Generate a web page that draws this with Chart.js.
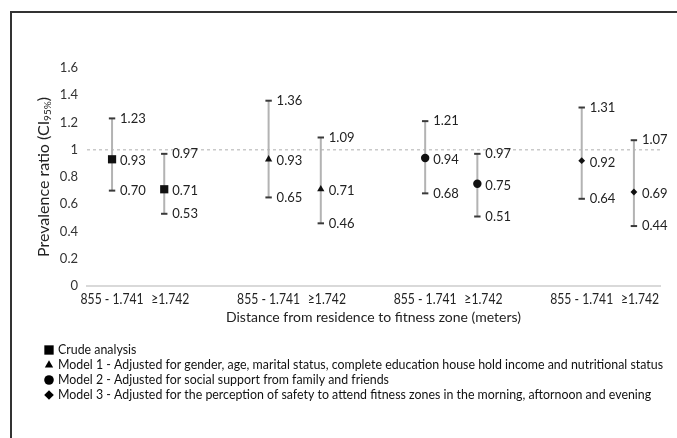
<!DOCTYPE html>
<html>
<head>
<meta charset="utf-8">
<script src="https://cdn.jsdelivr.net/npm/chart.js@4.4.1/dist/chart.umd.min.js"></script>
<style>
    html, body { margin: 0; padding: 0; background: #fff; }
    #chart { display: block; }
</style>
</head>
<body>
<canvas id="chart" width="677" height="438"></canvas>
<script>
const models = [
    'Crude analysis',
    'Model 1 - Adjusted for gender, age, marital status, complete education house hold income and nutritional status',
    'Model 2 - Adjusted for social support from family and friends',
    'Model 3 - Adjusted for the perception of safety to attend fitness zones in the morning, aftornoon and evening',
];
const distances = ['855 - 1.741', '≥1.742'];
const estimates = [[0.93, 0.71], [0.93, 0.71], [0.94, 0.75], [0.92, 0.69]];
const lowerCI = [[0.70, 0.53], [0.65, 0.46], [0.68, 0.51], [0.64, 0.44]];
const upperCI = [[1.23, 0.97], [1.36, 1.09], [1.21, 0.97], [1.31, 1.07]];
const yTicks = [0, 0.2, 0.4, 0.6, 0.8, 1, 1.2, 1.4, 1.6];
const referenceValue = 1;

const markerStyles = [
    { pointStyle: 'rect', radius: 5.8 },
    { pointStyle: 'triangle', radius: 4.2 },
    { pointStyle: 'circle', radius: 4.2 },
    { pointStyle: 'rectRot', radius: 3.4 },
];

const font = 'Lato, "Open Sans", sans-serif';
const textColor = '#222';

// x position of each (model, distance) pair: pairs are separated by an empty slot
const xOf = (m, d) => m * 3 + d;
const tickPositions = models.flatMap((_, m) => distances.map((_, d) => xOf(m, d)));

const datasets = [];
models.forEach((model, m) => {
    const bars = [];
    distances.forEach((_, d) => {
        bars.push({ x: xOf(m, d), y: lowerCI[m][d] });
        bars.push({ x: xOf(m, d), y: upperCI[m][d] });
        bars.push({ x: xOf(m, d), y: null });
    });
    datasets.push({
        label: model + ' CI',
        data: bars,
        showLine: true,
        spanGaps: false,
        borderColor: '#b3b3b3',
        borderWidth: 2,
        pointStyle: 'line',
        pointRadius: 3.2,
        pointBorderColor: '#3a3a3a',
        pointBorderWidth: 2,
        pointHoverRadius: 3.2,
        order: 2,
    });
    datasets.push({
        label: model,
        data: distances.map((_, d) => ({ x: xOf(m, d), y: estimates[m][d] })),
        pointStyle: markerStyles[m].pointStyle,
        pointRadius: markerStyles[m].radius,
        pointHoverRadius: markerStyles[m].radius,
        backgroundColor: '#111',
        borderColor: '#111',
        borderWidth: 0,
        order: 1,
    });
});

const fmt = (v) => v.toFixed(2);

const decorations = {
    id: 'decorations',
    beforeDatasetsDraw(chart) {
        const { ctx, chartArea, scales } = chart;
        const y = scales.y.getPixelForValue(referenceValue);
        ctx.save();
        ctx.strokeStyle = '#c9c9c9';
        ctx.lineWidth = 1.5;
        ctx.setLineDash([3, 3]);
        ctx.beginPath();
        ctx.moveTo(chartArea.left, y);
        ctx.lineTo(chartArea.right, y);
        ctx.stroke();
        ctx.restore();
    },
    afterDatasetsDraw(chart) {
        const { ctx, scales, chartArea } = chart;
        ctx.save();
        ctx.font = '13px ' + font;
        ctx.fillStyle = textColor;
        ctx.textBaseline = 'middle';
        models.forEach((_, m) => {
            distances.forEach((_, d) => {
                const x = scales.x.getPixelForValue(xOf(m, d)) + 8;
                [lowerCI[m][d], estimates[m][d], upperCI[m][d]].forEach((v, i) => {
                    const y = scales.y.getPixelForValue(v) + (i === 1 ? 2 : 0);
                    ctx.fillText(fmt(v), x, y);
                });
            });
        });

        // category labels under the axis, slightly condensed like the original
        ctx.font = '15px ' + font;
        const squeeze = 63 / ctx.measureText(distances[0]).width;
        tickPositions.forEach((v) => {
            const first = v % 3 === 0;
            ctx.save();
            ctx.translate(scales.x.getPixelForValue(v) + (first ? 0 : -13), chartArea.bottom + 13);
            ctx.scale(squeeze, 1);
            ctx.textAlign = first ? 'center' : 'left';
            ctx.fillText(distances[v % 3], 0, 0);
            ctx.restore();
        });
        ctx.restore();
    },
    afterDraw(chart) {
        const { ctx, width, height } = chart;
        ctx.save();
        // frame
        ctx.strokeStyle = '#333';
        ctx.lineWidth = 2;
        ctx.beginPath();
        ctx.moveTo(11, height);
        ctx.lineTo(11, 12);
        ctx.lineTo(width, 12);
        ctx.stroke();

        // y axis title with subscript
        ctx.translate(44, 177);
        ctx.rotate(-Math.PI / 2);
        ctx.fillStyle = textColor;
        ctx.textBaseline = 'middle';
        const main = 'Prevalence ratio (CI';
        const sub = '95%';
        ctx.font = '16px ' + font;
        const wMain = ctx.measureText(main).width;
        const wClose = ctx.measureText(')').width;
        ctx.font = '10px ' + font;
        const wSub = ctx.measureText(sub).width;
        let x = -(wMain + wSub + wClose) / 2;
        ctx.font = '16px ' + font;
        ctx.fillText(main, x, 0);
        x += wMain;
        ctx.font = '10px ' + font;
        ctx.fillText(sub, x, 4);
        x += wSub;
        ctx.font = '16px ' + font;
        ctx.fillText(')', x, 0);
        ctx.restore();

        // legend
        ctx.save();
        ctx.font = '13px ' + font;
        const squeeze = 605 / ctx.measureText(models[1]).width;
        const rows = [350, 365, 380, 395];
        models.forEach((model, m) => {
            const y = rows[m];
            ctx.fillStyle = '#000';
            ctx.strokeStyle = '#000';
            const ms = markerStyles[m];
            Chart.helpers.drawPoint(ctx, {
                pointStyle: ms.pointStyle,
                radius: m === 0 ? 6.6 : 4.8,
                borderWidth: 0,
            }, 49, y);
            ctx.save();
            ctx.translate(58, y);
            ctx.scale(squeeze, 1);
            ctx.textBaseline = 'middle';
            ctx.fillStyle = '#111';
            ctx.fillText(model, 0, 0);
            ctx.restore();
        });
        ctx.restore();
    },
};

new Chart(document.getElementById('chart'), {
    type: 'scatter',
    data: { datasets },
    options: {
        responsive: false,
        animation: false,
        events: [],
        layout: { padding: { left: 0, right: 17, top: 68, bottom: 110 } },
        plugins: {
            legend: { display: false },
            tooltip: { enabled: false },
        },
        scales: {
            x: {
                type: 'linear',
                min: -0.48,
                max: 10.5,
                afterBuildTicks(scale) {
                    scale.ticks = tickPositions.map((value) => ({ value }));
                },
                afterFit(scale) {
                    scale.height = 42;
                },
                grid: { display: false, drawTicks: false },
                border: { display: true, color: '#d9d9d9', width: 2 },
                ticks: { display: false },
                title: {
                    display: true,
                    text: 'Distance from residence to fitness zone (meters)',
                    color: textColor,
                    font: { family: font, size: 14 },
                    padding: { top: 2, bottom: 2 },
                },
            },
            y: {
                min: 0,
                max: 1.6,
                afterBuildTicks(scale) {
                    scale.ticks = yTicks.map((value) => ({ value }));
                },
                afterFit(scale) {
                    scale.width = 87;
                },
                grid: { display: false, drawTicks: false },
                border: { display: false },
                ticks: {
                    padding: 9,
                    color: '#333',
                    font: { family: font, size: 13 },
                    callback: (value) => String(value),
                },
            },
        },
    },
    plugins: [decorations],
});
</script>
</body>
</html>
